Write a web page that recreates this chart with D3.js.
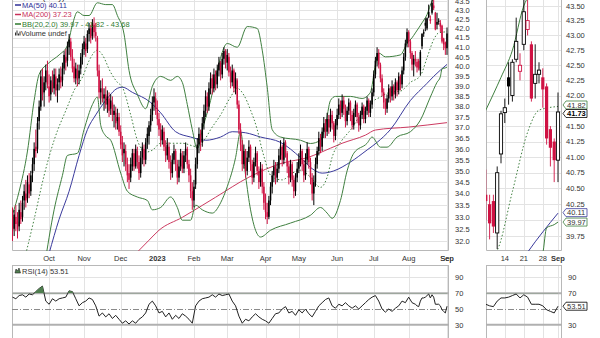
<!DOCTYPE html>
<html><head><meta charset="utf-8">
<script src="https://cdn.jsdelivr.net/npm/d3@7/dist/d3.min.js"></script>
<style>
html,body{margin:0;padding:0;background:#fff;}
svg{display:block;}
text{font-family:"Liberation Sans",Arial,sans-serif;}
</style></head><body>
<svg id="chart" width="600" height="338"></svg>
<script>
// ---------- DATA (daily, trading days Sep 1 2022 .. Sep 1 2023) ----------
const symbolName = "$TNA (Daily) 41.73";
const opens = [
33.0,32.5,33.0,32.8,32.6,33.2,33.0,33.7,34.0,33.8,
34.4,34.1,34.9,35.3,36.1,36.0,37.3,38.0,39.4,38.7,
39.2,39.8,39.0,38.6,39.2,38.9,39.5,38.8,39.2,39.5,
39.3,39.9,40.5,40.3,41.0,41.3,40.5,40.0,39.4,39.8,
39.4,39.9,40.5,40.9,41.2,40.9,41.7,42.0,41.6,42.2,
41.8,41.5,39.8,38.7,38.9,38.4,38.6,38.1,38.4,37.9,
38.2,37.6,37.7,37.3,37.5,36.8,36.3,35.8,35.9,35.3,
34.9,34.7,35.2,35.8,35.2,35.9,35.4,34.9,35.6,36.0,
35.5,36.3,36.6,37.1,37.6,38.2,38.4,37.9,37.4,36.9,
36.4,36.8,36.1,35.7,36.1,35.4,34.9,35.5,35.9,35.3,
34.7,35.2,35.7,35.1,35.7,36.0,35.3,34.8,34.1,33.7,
34.4,35.3,36.2,36.7,36.3,37.2,37.8,38.5,38.0,38.9,
39.4,38.9,39.6,39.1,39.8,40.2,39.6,40.4,40.8,40.2,
40.5,39.7,39.2,39.8,38.9,39.3,38.1,36.9,36.2,35.3,
35.9,35.0,35.6,36.1,35.3,34.7,35.4,35.8,35.0,34.5,
35.1,34.3,33.6,33.2,33.0,33.7,34.3,34.8,35.2,34.7,
35.1,35.7,36.1,35.5,36.3,35.8,35.2,34.7,35.3,34.6,
34.1,34.7,35.1,35.5,35.9,35.3,34.8,35.5,36.0,35.4,
34.7,34.0,34.5,35.3,35.9,36.5,36.1,36.8,37.2,36.8,
37.4,37.0,37.6,37.2,36.6,37.1,37.6,38.1,37.7,38.3,
37.9,37.3,37.8,38.2,37.6,37.1,37.7,38.1,37.5,37.1,
37.6,38.0,37.4,37.8,38.3,37.7,38.1,38.7,39.6,40.3,
40.7,40.1,39.4,38.7,38.2,37.9,38.4,38.9,38.5,39.0,
38.6,39.2,38.8,39.5,39.1,39.8,40.5,41.2,41.8,41.3,
40.7,40.1,40.4,40.25,40.3,39.8,41.05,41.72,42.3,42.0,
42.6,42.4,42.85,43.1,42.85,42.2,42.35,42.3,42.15,41.45,
41.25,40.95];
const highs = [
33.4,33.3,33.5,33.2,33.6,33.7,33.9,34.4,34.6,34.8,
34.9,35.0,35.6,36.3,36.9,37.5,38.3,39.8,39.9,39.5,
40.1,40.3,39.6,39.5,39.8,39.9,39.9,39.4,39.9,40.0,
40.2,40.8,40.9,41.3,41.7,41.5,40.9,40.4,40.2,40.1,
40.1,40.7,41.2,41.6,41.5,41.9,42.3,42.2,42.5,42.6,
42.3,41.6,40.1,39.3,39.4,38.9,39.0,38.8,38.7,38.6,
38.5,38.1,38.0,37.9,37.7,37.1,36.6,36.3,36.2,35.6,
35.3,35.6,36.0,36.0,36.2,36.1,35.7,35.9,36.3,36.2,
36.5,37.0,37.3,37.9,38.5,38.9,38.7,38.3,37.7,37.2,
37.1,37.0,36.4,36.5,36.3,35.7,35.8,36.2,36.0,35.5,
35.5,36.0,35.9,35.9,36.3,36.1,35.5,35.1,34.5,34.6,
35.6,36.5,37.0,36.9,37.5,38.1,38.8,38.7,39.2,39.7,
39.6,39.9,39.8,40.1,40.5,40.3,40.7,41.0,40.9,40.9,
40.7,40.0,40.1,39.9,39.7,39.4,38.3,37.2,36.4,36.2,
36.0,35.9,36.4,36.2,35.5,35.6,36.1,35.9,35.2,35.4,
35.3,34.5,34.0,33.6,33.9,34.5,35.0,35.5,35.4,35.4,
36.0,36.4,36.2,36.5,36.4,35.9,35.4,35.5,35.4,34.8,
34.9,35.4,35.8,36.2,36.0,35.5,35.8,36.3,36.1,35.6,
34.9,34.8,35.6,36.1,36.8,36.7,37.0,37.5,37.4,37.7,
37.6,37.9,37.8,37.3,37.4,37.9,38.4,38.3,38.6,38.5,
38.1,38.0,38.4,38.3,37.8,37.9,38.3,38.2,37.7,37.8,
38.2,38.1,38.0,38.5,38.4,38.3,38.9,39.8,40.5,41.0,
40.9,40.2,39.6,38.9,38.4,38.6,39.1,39.0,39.3,39.1,
39.4,39.3,39.7,39.6,40.0,40.7,41.4,42.0,41.9,41.4,
40.8,40.6,40.8,40.4,40.4,40.85,41.75,41.95,42.55,42.6,
43.3,42.7,43.6,43.75,42.9,42.85,42.55,42.45,42.2,41.5,
41.3,42.05];
const lows = [
32.0,32.2,32.4,32.1,32.4,32.7,32.8,33.3,33.4,33.6,
33.8,33.9,34.5,35.0,35.6,35.8,36.9,37.8,38.3,38.0,
38.8,38.9,38.2,38.3,38.7,38.6,38.5,38.2,38.8,38.9,
39.0,39.6,39.8,40.0,40.6,40.3,39.7,39.2,39.1,39.0,
39.1,39.6,40.1,40.6,40.5,40.7,41.3,41.2,41.4,41.5,
41.3,39.5,38.4,38.1,38.2,37.8,37.9,37.7,37.5,37.6,
37.3,37.0,36.9,36.9,36.6,36.0,35.4,35.2,35.0,34.5,
34.2,34.5,35.0,35.0,35.1,35.1,34.6,34.7,35.3,35.2,
35.3,36.0,36.2,36.8,37.3,37.8,37.6,37.1,36.6,36.1,
36.2,35.9,35.4,35.5,35.1,34.6,34.7,35.3,35.0,34.4,
34.5,35.0,34.9,34.9,35.4,35.1,34.5,33.8,33.3,33.4,
34.2,35.1,35.8,35.9,36.1,36.9,37.5,37.7,37.8,38.6,
38.6,38.7,38.8,38.9,39.5,39.3,39.4,40.1,39.9,39.8,
39.5,38.9,39.0,38.7,38.6,37.9,36.7,35.9,35.0,35.1,
34.7,34.8,35.4,35.0,34.4,34.5,35.2,34.8,34.2,34.3,
34.0,33.3,32.9,32.7,32.9,33.5,34.0,34.5,34.4,34.5,
34.9,35.5,35.2,35.3,35.6,34.9,34.4,34.5,34.3,33.8,
33.9,34.5,34.9,35.2,35.0,34.5,34.6,35.3,35.1,34.4,
33.7,33.5,34.3,35.1,35.7,35.8,35.9,36.5,36.5,36.6,
36.7,36.8,36.9,36.3,36.4,36.9,37.4,37.4,37.5,37.6,
37.0,37.1,37.6,37.3,36.9,36.9,37.5,37.2,36.8,36.9,
37.4,37.2,37.2,37.6,37.5,37.5,37.9,38.5,39.4,40.0,
39.9,39.2,38.5,37.9,37.6,37.7,38.2,38.2,38.3,38.3,
38.4,38.5,38.6,38.8,38.9,39.6,40.3,41.0,41.0,40.4,
39.8,39.5,40.0,39.7,39.8,39.55,40.9,41.55,41.85,41.9,
42.55,42.25,42.75,43.0,41.9,41.95,42.2,41.8,41.2,40.85,
40.6,40.6];
const closes = [
32.4,33.1,32.7,32.5,33.3,32.9,33.6,34.1,33.7,34.5,
34.0,34.8,35.3,36.0,35.9,37.2,38.0,39.5,38.6,39.2,
39.8,39.1,38.5,39.3,38.9,39.6,38.8,39.1,39.6,39.2,
39.9,40.6,40.2,41.0,41.4,40.5,39.9,39.4,39.9,39.3,
39.8,40.5,40.9,41.3,40.8,41.7,42.0,41.5,42.3,41.8,
41.6,39.8,38.7,38.9,38.4,38.6,38.1,38.5,37.8,38.3,
37.6,37.8,37.2,37.5,36.8,36.2,35.7,36.0,35.3,34.8,
34.6,35.3,35.8,35.2,36.0,35.4,34.9,35.6,36.1,35.5,
36.3,36.7,37.1,37.6,38.2,38.5,37.9,37.4,36.9,36.4,
36.9,36.1,35.7,36.2,35.4,34.9,35.5,35.9,35.3,34.7,
35.2,35.8,35.1,35.7,36.0,35.3,34.8,34.1,33.7,34.3,
35.3,36.2,36.7,36.3,37.2,37.8,38.5,38.0,38.9,39.4,
38.9,39.6,39.1,39.8,40.2,39.6,40.4,40.8,40.2,40.6,
39.7,39.2,39.8,38.9,39.4,38.1,36.9,36.2,35.3,35.9,
35.0,35.6,36.1,35.3,34.7,35.4,35.8,35.0,34.5,35.1,
34.3,33.6,33.2,33.0,33.7,34.3,34.8,35.2,34.7,35.1,
35.7,36.1,35.5,36.3,35.8,35.2,34.7,35.3,34.6,34.1,
34.7,35.1,35.5,35.9,35.3,34.8,35.5,36.0,35.4,34.7,
34.0,34.5,35.3,35.9,36.5,36.1,36.8,37.2,36.8,37.4,
37.0,37.6,37.2,36.6,37.1,37.6,38.1,37.7,38.3,37.9,
37.3,37.8,38.2,37.6,37.1,37.7,38.1,37.5,37.1,37.6,
38.0,37.4,37.8,38.3,37.7,38.1,38.7,39.6,40.3,40.7,
40.1,39.4,38.7,38.2,37.9,38.4,38.9,38.5,39.0,38.6,
39.2,38.8,39.5,39.1,39.8,40.5,41.2,41.8,41.3,40.7,
40.1,40.4,40.3,39.95,39.9,40.75,41.7,41.8,42.15,42.55,
42.9,42.5,43.4,43.25,41.95,42.35,42.42,42.1,41.3,41.15,
40.95,41.73];

// indicator readings (trading-day index, value)
const ma50Days = [22,28,34,40,45,50,56,63,66,72,83,89,98,107,116,125,132,140,149,161,173,180,186,193,203,213,219,227,239,249,253,261];
const ma50Vals = [31.5,32.9,34.1,35.7,36.9,37.6,38.3,38.9,38.96,38.7,38.2,37.7,36.8,36.55,36.4,36.55,36.8,36.75,36.55,36.3,35.6,35.1,34.9,35.0,35.4,35.95,36.3,36.9,38.3,39.15,39.5,40.11];
const ma200Days = [70,82,88,102,122,142,162,178,184,198,212,218,238,261];
const ma200Vals = [31.2,32.03,32.44,32.98,33.84,34.72,35.35,35.62,35.8,36.26,36.64,36.88,37.02,37.23];
const bbUpDays = [0,4,9,13,16,22,28,33,36,39,43,46,51,56,60,63,67,70,75,80,84,89,95,99,102,105,108,111,114,119,123,129,135,141,147,150,153,156,161,173,179,185,188,191,194,203,210,215,218,220,224,233,237,240,242,246,249,252,255,261];
const bbUpVals = [33.1,34.1,35.9,38.3,39.6,40.2,40.6,41.1,42.2,42.9,42.7,42.7,43.4,43.3,43.3,42.7,41.7,39.8,38.6,37.9,39.0,39.5,39.3,39.5,39.2,38.1,36.9,36.0,36.9,38.3,39.8,41.2,41.0,42.1,42.0,40.85,38.96,36.9,36.55,36.4,36.25,36.4,37.1,38.3,38.5,38.5,38.4,38.7,40.1,40.7,40.5,40.6,41.2,41.5,41.76,42.3,42.75,43.5,43.75,43.68];
const bbMidDays = [7,13,19,25,33,37,42,46,51,54,59,63,66,71,75,80,84,89,95,102,111,116,119,125,131,135,139,143,147,150,156,162,168,173,179,185,189,192,198,203,209,215,221,227,233,239,245,249,253,256,261];
const bbMidVals = [31.2,32.9,34.8,36.4,38.0,38.8,39.46,40.3,40.85,40.6,39.7,39.2,38.96,37.6,36.4,35.85,35.94,36.26,36.26,36.26,36.1,36.5,36.9,37.6,38.47,38.9,38.56,37.83,36.9,35.94,34.72,34.6,34.9,35.03,34.72,34.27,34.72,35.62,36.41,36.88,37.6,38.18,38.47,38.71,38.76,39.2,39.53,40.45,41.4,41.76,41.82];
const bbLoDays = [19,25,30,33,39,43,48,51,53,56,59,65,69,75,81,84,89,95,99,102,107,110,114,120,125,129,134,137,140,143,149,155,167,179,185,189,192,197,201,205,213,216,221,225,231,239,245,251,255,257,258,260,261];
const bbLoVals = [30.9,33.3,34.8,35.7,35.8,36.9,38.1,38.47,37.1,36.6,36.4,34.9,34.1,33.85,33.7,33.3,33.4,33.85,33.4,32.86,32.86,33.5,33.3,33.16,33.6,34.3,35.6,36.8,34.8,33.3,32.16,32.44,32.74,33.07,33.4,33.16,32.94,33.7,35.0,35.8,36.26,36.55,36.08,36.08,36.55,36.8,37.35,38.47,39.2,39.48,39.88,39.93,39.97];
const rsiDays = [0,2,4,6,8,10,12,14,16,18,20,22,24,26,28,30,32,34,36,38,40,42,44,46,48,50,52,54,56,58,60,62,64,66,68,70,72,74,76,78,80,82,84,86,88,90,92,94,96,98,100,102,104,106,108,110,112,114,116,118,120,122,124,126,128,130,132,134,136,138,140,142,144,146,148,150,152,154,156,158,160,162,164,166,168,170,172,174,176,178,180,182,184,186,188,190,192,194,196,198,200,202,204,206,208,210,212,214,216,218,220,222,224,226,228,230,232,234,236,238,240,242,243,244,245,246,247,248,249,250,251,252,253,254,255,256,257,258,259,260,261];
const rsiVals = [65,63,67,68,65,69,68,72,76,79,60,56,63,60,63,64,65,73,72,63,54,58,60,64,62,54,41,45,40,44,38,42,37,32,35,31,35,32,37,40,45,56,60,54,45,47,40,45,37,42,38,44,41,37,32,54,60,63,64,65,68,65,69,67,68,69,60,54,41,32,37,35,40,44,40,37,35,32,38,44,45,50,53,45,47,42,49,45,50,44,40,47,54,58,62,64,54,51,56,54,58,54,51,54,50,54,58,62,65,67,60,50,46,50,47,51,54,60,58,65,58,56,54,53,60,64,64,65,67,69,64,68,65,56,56,56,54,49,47,45,53.51];

const priceTicks = d3.range(32, 43.51, 0.5);
const zoomTicks = [43.5,43.25,43.0,42.75,42.5,42.25,42.0,41.5,41.25,41.0,40.75,40.5,40.25,39.75];
const rsiTicks = [90,70,50,30];
const zoomRsiTicks = [90,70,30];
const zoomLabels = [{d:247,t:"14"},{d:252,t:"21"},{d:257,t:"28"},{d:261,t:"Sep",b:true}];
const legendItems = [
  {t:"MA(50) 40.11", c:"#2f2f96"},
  {t:"MA(200) 37.23", c:"#c8305a"},
  {t:"BB(20,2.0) 39.97 - 41.82 - 43.68", c:"#2e7a2e"}
];
const tags = [
  {v:41.82, t:"41.82", c:"#3f7f3f", dy:-1.5},
  {v:41.73, t:"41.73", c:"#000", dy:1.5, b:true},
  {v:40.11, t:"40.11", c:"#3a3a9c", dy:-0.5},
  {v:39.97, t:"39.97", c:"#3f7f3f", dy:0}
];

// ---------- RENDER ----------
const svg = d3.select("#chart");
const RED="#cf1243", BLUE="#3a3a9c", CRIM="#cc3a60", GREEN="#3f7f3f", GRID="#e3e3e3", BORDER="#b8b8b8", TXT="#333";

const days=[];
for(let d=new Date(2022,8,1); d<=new Date(2023,8,1); d=new Date(d.getFullYear(),d.getMonth(),d.getDate()+1)){
  const w=d.getDay(); if(w!==0&&w!==6) days.push(d);
}
const N = days.length;
const monthStarts=[];
days.forEach((d,i)=>{ if(i>0 && d.getMonth()!==days[i-1].getMonth()) monthStarts.push(i); });
const monthName = i => days[i].getMonth()===0 ? String(days[i].getFullYear()) : d3.timeFormat("%b")(days[i]);

const M={x0:12,x1:449,y0:0,y1:251};
const Z={x0:486,x1:562,y0:0,y1:251};
const R={y0:265,y1:340};

const xM=d3.scaleLinear().domain([0,N-1]).range([12.5,447]);
const yM=d3.scaleLog().domain([31.59,43.556]).range([251,0]);
const xZ=d3.scaleLinear().domain([243,N-1]).range([489.6,558]);
const yZ=d3.scaleLog().domain([39.52,43.60]).range([251,0]);
const yR=d3.scaleLinear().domain([0,100]).range([348.5,269.5]);

const defs=svg.append("defs");
function clip(id,x,y,w,h){defs.append("clipPath").attr("id",id).append("rect").attr("x",x).attr("y",y).attr("width",w).attr("height",h);}
clip("cm",M.x0,M.y0,M.x1-M.x0,M.y1-M.y0);
clip("cz",Z.x0,Z.y0,Z.x1-Z.x0,Z.y1-Z.y0);
clip("crm",M.x0,R.y0,M.x1-M.x0,R.y1-R.y0);
clip("crz",Z.x0,R.y0,Z.x1-Z.x0,R.y1-R.y0);
clip("c70m",M.x0,R.y0,M.x1-M.x0,yR(70)-R.y0);
clip("c70z",Z.x0,R.y0,Z.x1-Z.x0,yR(70)-R.y0);

svg.append("rect").attr("width",600).attr("height",338).attr("fill","#fff");

// ---- grids
function hgrid(P,ys,ticks){
  svg.append("g").selectAll("line").data(ticks).join("line")
    .attr("x1",P.x0).attr("x2",P.x1).attr("y1",t=>Math.round(ys(t))+0.5).attr("y2",t=>Math.round(ys(t))+0.5)
    .attr("stroke",GRID).attr("stroke-width",1);
}
function vgrid(P,xs,idx,y0,y1){
  svg.append("g").selectAll("line").data(idx).join("line")
    .attr("x1",i=>Math.round(xs(i))+0.5).attr("x2",i=>Math.round(xs(i))+0.5).attr("y1",y0).attr("y2",y1)
    .attr("stroke",GRID).attr("stroke-width",1);
}
hgrid(M,yM,priceTicks); vgrid(M,xM,monthStarts,M.y0,M.y1);
hgrid(Z,yZ,d3.range(39.75,43.51,0.25)); vgrid(Z,xZ,zoomLabels.map(d=>d.d),Z.y0,Z.y1);
hgrid(M,yR,[90,10]); hgrid(Z,yR,[90,10]);
vgrid(M,xM,monthStarts,R.y0,R.y1); vgrid(Z,xZ,zoomLabels.map(d=>d.d),R.y0,R.y1);

// borders (price panels: left, right, bottom only - top is cropped)
[M,Z].forEach(P=>{
  svg.append("path").attr("d",`M${P.x0+0.5},${P.y0} V${P.y1-0.5} H${P.x1-0.5} V${P.y0}`)
    .attr("fill","none").attr("stroke",BORDER);
});
[M,Z].forEach(P=>{
  svg.append("rect").attr("x",P.x0+0.5).attr("y",R.y0+0.5).attr("width",P.x1-P.x0-1).attr("height",R.y1-R.y0+4)
    .attr("fill","none").attr("stroke",BORDER);
});

// ---- line helper
function series(dayArr,valArr){ return dayArr.map((d,i)=>[d,valArr[i]]); }
function drawLine(g,xs,ys,data,color,w,dash,curve){
  g.append("path").datum(data)
    .attr("d",d3.line().x(d=>xs(d[0])).y(d=>ys(d[1])).curve(curve||d3.curveMonotoneX))
    .attr("fill","none").attr("stroke",color).attr("stroke-width",w).attr("stroke-dasharray",dash||null);
}
const idxAll=d3.range(N);
function drawPanel(clipId,xs,ys,bw,hollowOk){
  const g=svg.append("g").attr("clip-path",`url(#${clipId})`);
  drawLine(g,xs,ys,series(ma200Days,ma200Vals),CRIM,1);
  drawLine(g,xs,ys,series(ma50Days,ma50Vals),BLUE,1);
  drawLine(g,xs,ys,series(bbUpDays,bbUpVals),GREEN,1);
  drawLine(g,xs,ys,series(bbLoDays,bbLoVals),GREEN,1);
  drawLine(g,xs,ys,series(bbMidDays,bbMidVals),GREEN,1,"1.5,2");
  const cg=g.append("g");
  idxAll.forEach(i=>{
    const up = i===0 ? closes[i]>=opens[i] : closes[i]>=closes[i-1];
    const col = up ? "#000" : RED;
    const hollow = closes[i]>opens[i];
    const x=xs(i);
    cg.append("line").attr("x1",x).attr("x2",x).attr("y1",ys(highs[i])).attr("y2",ys(lows[i]))
      .attr("stroke",col).attr("stroke-width",hollowOk?0.9:1);
    const top=ys(Math.max(opens[i],closes[i])), bot=ys(Math.min(opens[i],closes[i]));
    const h=Math.max(bot-top,0.8);
    if(hollowOk && hollow){
      cg.append("rect").attr("x",x-bw/2).attr("y",top).attr("width",bw).attr("height",h)
        .attr("fill","#fff").attr("stroke",col).attr("stroke-width",0.9);
    } else {
      cg.append("rect").attr("x",x-bw/2).attr("y",top).attr("width",bw).attr("height",h).attr("fill",col);
    }
  });
}
drawPanel("cm",xM,yM,1.5,false);
drawPanel("cz",xZ,yZ,3.2,true);

// ---- RSI
function drawRsi(clipId,c70,xs){
  const g=svg.append("g").attr("clip-path",`url(#${clipId})`);
  const P = clipId==="crm"?M:Z;
  g.append("line").attr("x1",P.x0).attr("x2",P.x1).attr("y1",yR(70)).attr("y2",yR(70)).attr("stroke","#b0b0b0").attr("stroke-width",2);
  g.append("line").attr("x1",P.x0).attr("x2",P.x1).attr("y1",yR(30)).attr("y2",yR(30)).attr("stroke","#b0b0b0").attr("stroke-width",2);
  g.append("line").attr("x1",P.x0).attr("x2",P.x1).attr("y1",yR(50)+0.5).attr("y2",yR(50)+0.5).attr("stroke","#8a8a8a").attr("stroke-width",1).attr("stroke-dasharray","6,2,1,2");
  const data=series(rsiDays,rsiVals);
  svg.append("g").attr("clip-path",`url(#${c70})`).append("path").datum(data)
    .attr("d",d3.area().x(d=>xs(d[0])).y0(yR(70)).y1(d=>yR(d[1])))
    .attr("fill","#4f7f4f");
  g.append("path").datum(data).attr("d",d3.line().x(d=>xs(d[0])).y(d=>yR(d[1])))
    .attr("fill","none").attr("stroke","#222").attr("stroke-width",1);
}
drawRsi("crm","c70m",xM);
drawRsi("crz","c70z",xZ);

// ---- axis labels
const fs=7.5;
function ylabels(x,ys,ticks,fmt){
  svg.append("g").selectAll("text").data(ticks).join("text")
    .attr("x",x).attr("y",t=>ys(t)+2.7).attr("font-size",fs).attr("fill",TXT).text(fmt);
}
ylabels(455,yM,priceTicks,d3.format(".1f"));
ylabels(566,yZ,zoomTicks,d3.format(".2f"));
ylabels(455,yR,rsiTicks,d=>d);
ylabels(568,yR,zoomRsiTicks,d=>d);

svg.append("g").selectAll("text").data(monthStarts).join("text")
  .attr("x",i=>xM(i)).attr("y",261).attr("text-anchor","middle").attr("font-size",fs).attr("fill",TXT)
  .attr("font-weight",i=>days[i].getMonth()===0?"bold":null).text(monthName);
svg.append("text").attr("x",xM(N-1)).attr("y",261).attr("text-anchor","middle").attr("font-size",fs).attr("fill",TXT).text("Sep");
svg.append("g").selectAll("text").data(zoomLabels).join("text")
  .attr("x",d=>xZ(d.d)).attr("y",261).attr("text-anchor","middle").attr("font-size",fs).attr("fill",TXT)
  .attr("font-weight",d=>d.b?"bold":null).text(d=>d.t);

// ---- boxed value tags on zoom panel
function tag(y,txt,col,bold){
  const g=svg.append("g");
  g.append("path").attr("d",`M563,${y} L566,${y-4} L587,${y-4} L587,${y+4} L566,${y+4} Z`)
    .attr("fill","#fff").attr("stroke",col).attr("stroke-width",0.8);
  g.append("text").attr("x",567).attr("y",y+2.7).attr("font-size",fs).attr("fill",bold?"#000":TXT)
    .attr("font-weight",bold?"bold":null).text(txt);
}
tags.forEach(t=>tag(yZ(t.v)+t.dy,t.t,t.c,t.b));
tag(yR(rsiVals[rsiVals.length-1]),"53.51","#000",false);

// ---- legend
const lg=svg.append("g");
lg.append("text").attr("x",22).attr("y",-0.5).attr("font-size",fs).attr("fill","#000").text(symbolName);
legendItems.forEach((it,k)=>{
  const y=7.5+k*9.5;
  lg.append("line").attr("x1",15).attr("x2",21).attr("y1",y-2.5).attr("y2",y-2.5).attr("stroke",it.c).attr("stroke-width",1.5);
  lg.append("text").attr("x",22).attr("y",y).attr("font-size",fs).attr("fill",it.c).text(it.t);
});
[[15,3],[16.5,5],[18,2],[19.5,4]].forEach(([x,h])=>lg.append("rect").attr("x",x).attr("y",35.5-h).attr("width",1).attr("height",h).attr("fill","#333"));
lg.append("text").attr("x",21).attr("y",36).attr("font-size",fs).attr("fill",TXT).text("Volume undef");

svg.append("path").attr("d","M15,273 L16,269 L17.5,271 L19,268 L20.5,273 Z").attr("fill","#4f7f4f").attr("stroke","#222").attr("stroke-width",0.6);
svg.append("text").attr("x",22).attr("y",274).attr("font-size",fs).attr("fill",TXT).text("RSI(14) 53.51");
</script></body></html>
